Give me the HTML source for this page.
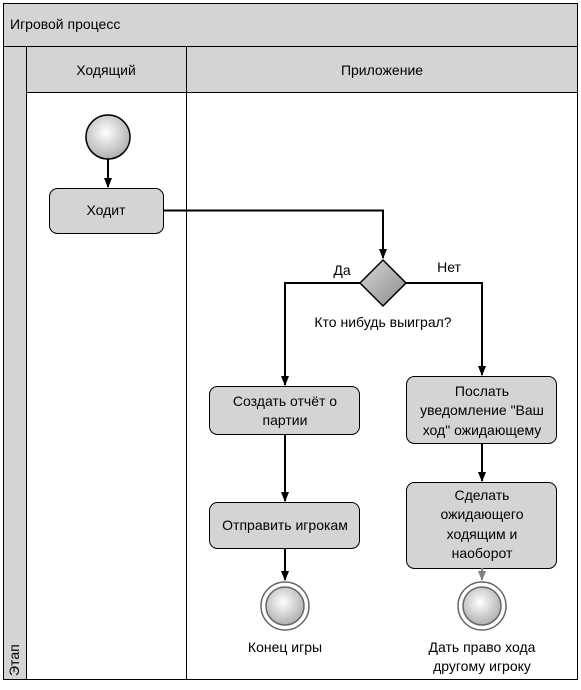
<!DOCTYPE html>
<html><head><meta charset="utf-8"><style>
body{margin:0;background:#fff}
svg text{font-family:"Liberation Sans",Arial,sans-serif;font-size:14px;fill:#000}
</style></head><body>
<svg width="581" height="685" xmlns="http://www.w3.org/2000/svg">
<defs>
<radialGradient id="g" cx="45%" cy="40%" r="60%"><stop offset="0" stop-color="#fff"/><stop offset="1" stop-color="#b0b0b0"/></radialGradient>
<linearGradient id="d" x1="0" y1="0" x2="1" y2="1"><stop offset="0" stop-color="#d8d8d8"/><stop offset="1" stop-color="#8a8a8a"/></linearGradient>
<marker id="a" markerWidth="10" markerHeight="8" refX="9" refY="4" orient="auto" markerUnits="userSpaceOnUse"><path d="M0,0L10,4L0,8z" fill="#000"/></marker>
<marker id="ag" markerWidth="10" markerHeight="8" refX="9" refY="4" orient="auto" markerUnits="userSpaceOnUse"><path d="M0,0L10,4L0,8z" fill="#808080"/></marker>
</defs>
<rect x="3.5" y="3.5" width="574" height="676" fill="#fff" stroke="#000"/>
<rect x="3.5" y="3.5" width="574" height="43" fill="#d4d4d4" stroke="#000"/>
<text x="10" y="29">Игровой процесс</text>
<rect x="3.5" y="46.5" width="23" height="633" fill="#d4d4d4" stroke="#000"/>
<text transform="translate(19,676) rotate(-90)" font-size="12">Этап</text>
<rect x="26.5" y="46.5" width="160" height="46" fill="#d4d4d4" stroke="#000"/>
<rect x="186.5" y="46.5" width="391" height="46" fill="#d4d4d4" stroke="#000"/>
<line x1="186.5" y1="92" x2="186.5" y2="680" stroke="#000"/>
<text x="106" y="75" text-anchor="middle">Ходящий</text>
<text x="382" y="75" text-anchor="middle">Приложение</text>

<circle cx="108" cy="137" r="22" fill="url(#g)" stroke="#000" stroke-width="1.5"/>
<line x1="108" y1="159" x2="108" y2="187" stroke="#000" stroke-width="2" marker-end="url(#a)"/>
<rect x="49.5" y="188.5" width="114" height="45" rx="8" fill="#d4d4d4" stroke="#000"/>
<text x="106" y="215" text-anchor="middle">Ходит</text>
<polyline points="163,210.5 383,210.5 383,258" fill="none" stroke="#000" stroke-width="2" marker-end="url(#a)"/>
<polygon points="383,260 406,283 383,306 360,283" fill="url(#d)" stroke="#000" stroke-width="1.5"/>
<text x="342" y="275" text-anchor="middle">Да</text>
<text x="449" y="272" text-anchor="middle">Нет</text>
<text x="383" y="327" text-anchor="middle">Кто нибудь выиграл?</text>
<polyline points="360,283 285,283 285,385" fill="none" stroke="#000" stroke-width="2" marker-end="url(#a)"/>
<polyline points="406,283 482,283 482,375" fill="none" stroke="#000" stroke-width="2" marker-end="url(#a)"/>

<rect x="209.5" y="386.5" width="150" height="48" rx="8" fill="#d4d4d4" stroke="#000"/>
<text x="285" y="406" text-anchor="middle">Создать отчёт о</text>
<text x="285" y="425" text-anchor="middle">партии</text>
<line x1="285" y1="434" x2="285" y2="501" stroke="#000" stroke-width="2" marker-end="url(#a)"/>
<rect x="209.5" y="502.5" width="150" height="46" rx="8" fill="#d4d4d4" stroke="#000"/>
<text x="285" y="530" text-anchor="middle">Отправить игрокам</text>
<line x1="285" y1="548" x2="285" y2="580" stroke="#000" stroke-width="2" marker-end="url(#a)"/>
<circle cx="285" cy="606" r="24" fill="#fff" stroke="#666" stroke-width="1.5"/>
<circle cx="285" cy="606" r="19" fill="url(#g)" stroke="#666" stroke-width="1.5"/>
<text x="285" y="652" text-anchor="middle">Конец игры</text>

<rect x="406.5" y="376.5" width="150" height="67" rx="8" fill="#d4d4d4" stroke="#000"/>
<text x="482" y="396" text-anchor="middle">Послать</text>
<text x="482" y="415" text-anchor="middle">уведомление "Ваш</text>
<text x="482" y="435" text-anchor="middle">ход" ожидающему</text>
<line x1="482" y1="443" x2="482" y2="481" stroke="#000" stroke-width="2" marker-end="url(#a)"/>
<rect x="406.5" y="482.5" width="150" height="86" rx="8" fill="#d4d4d4" stroke="#000"/>
<text x="482" y="500" text-anchor="middle">Сделать</text>
<text x="482" y="519" text-anchor="middle">ожидающего</text>
<text x="482" y="539" text-anchor="middle">ходящим и</text>
<text x="482" y="558" text-anchor="middle">наоборот</text>
<line x1="482" y1="568" x2="482" y2="580" stroke="#808080" stroke-width="2" marker-end="url(#ag)"/>
<circle cx="482" cy="606" r="24" fill="#fff" stroke="#666" stroke-width="1.5"/>
<circle cx="482" cy="606" r="19" fill="url(#g)" stroke="#666" stroke-width="1.5"/>
<text x="482" y="652" text-anchor="middle">Дать право хода</text>
<text x="482" y="671" text-anchor="middle">другому игроку</text>
</svg>
</body></html>
